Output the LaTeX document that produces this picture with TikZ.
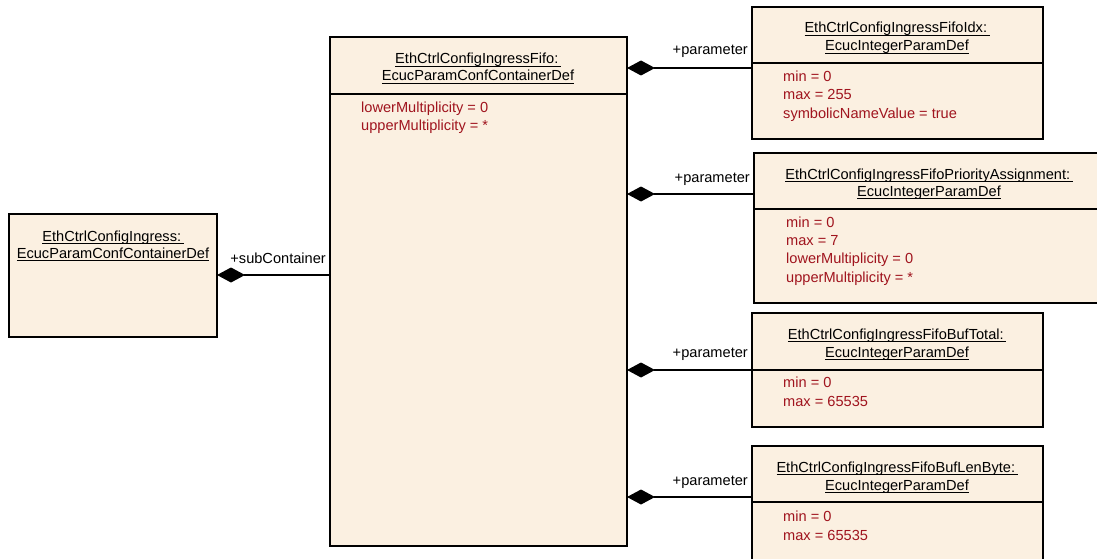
\documentclass[tikz,border=0pt]{standalone}
\usepackage{fontspec}
\setmainfont{Liberation Sans}
\usetikzlibrary{arrows.meta}
\definecolor{boxfill}{RGB}{251,240,225}
\definecolor{attrred}{RGB}{160,20,30}
\newcommand{\ulx}[1]{\setbox0\hbox{#1}\rlap{\rule[-3pt]{\wd0}{0.8pt}}\box0}
\begin{document}
\begin{tikzpicture}[x=1pt,y=-1pt, font=\fontsize{14.6}{18.5}\selectfont,
 umlbox/.style={draw=black, line width=1.1pt, fill=boxfill, rectangle, anchor=north west, inner sep=0pt, outer sep=0pt},
 ttl/.style={anchor=base, inner sep=0pt},
 att/.style={anchor=base west, inner sep=0pt, text=attrred},
 lbl/.style={anchor=base east, inner sep=0pt},
 sep/.style={line width=1.1pt},
 comp/.style={line width=1.1pt, {Diamond[length=28pt,width=15pt]}-}]
\useasboundingbox (0,0) rectangle (1097,559);
\fill[white] (0,0) rectangle (1097,559);
\clip (0,0) rectangle (1097,559);

% boxes
\node[umlbox, minimum width=208pt, minimum height=123pt] (lft) at (9,214) {};
\node[umlbox, minimum width=297pt, minimum height=509pt] (ctr) at (330,37) {};
\node[umlbox, minimum width=291pt, minimum height=132pt] (p1) at (752,7) {};
\node[umlbox, minimum width=360pt, minimum height=150pt] (p2) at (754,153) {};
\node[umlbox, minimum width=291pt, minimum height=114pt] (p3) at (752,313) {};
\node[umlbox, minimum width=291pt, minimum height=130pt] (p4) at (752,446) {};

% separators
\draw[sep] ([yshift=-57pt]ctr.north west) -- ([yshift=-57pt]ctr.north east);
\draw[sep] ([yshift=-56pt]p1.north west) -- ([yshift=-56pt]p1.north east);
\draw[sep] ([yshift=-56pt]p2.north west) -- ([yshift=-56pt]p2.north east);
\draw[sep] ([yshift=-57pt]p3.north west) -- ([yshift=-57pt]p3.north east);
\draw[sep] ([yshift=-56pt]p4.north west) -- ([yshift=-56pt]p4.north east);

% titles
\node[ttl] (lt1) at (113,241) {\ulx{EthCtrlConfigIngress:\,}};
\node[ttl] (lt2) at (113,258) {\ulx{EcucParamConfContainerDef}};
\node[ttl] (ct1) at (478,64) {\ulx{EthCtrlConfigIngressFifo:\,}};
\node[ttl] (ct2) at (478,81) {\ulx{EcucParamConfContainerDef}};
\node[ttl] (t11) at (897,33) {\ulx{EthCtrlConfigIngressFifoIdx:\,}};
\node[ttl] (t12) at (897,51) {\ulx{EcucIntegerParamDef}};
\node[ttl] (t21) at (929,179) {\ulx{EthCtrlConfigIngressFifoPriorityAssignment:\,}};
\node[ttl] (t22) at (929,196) {\ulx{EcucIntegerParamDef}};
\node[ttl] (t31) at (897,339) {\ulx{EthCtrlConfigIngressFifoBufTotal:\,}};
\node[ttl] (t32) at (897,357) {\ulx{EcucIntegerParamDef}};
\node[ttl] (t41) at (897,472) {\ulx{EthCtrlConfigIngressFifoBufLenByte:\,}};
\node[ttl] (t42) at (897,490) {\ulx{EcucIntegerParamDef}};

% attributes
\node[att] (ca1) at (361,113) {lowerMultiplicity = 0};
\node[att] (ca2) at (361,131) {upperMultiplicity = *};
\node[att] (a11) at (783,82) {min = 0};
\node[att] (a12) at (783,100) {max = 255};
\node[att] (a13) at (783,119) {symbolicNameValue = true};
\node[att] (a21) at (786,227) {min = 0};
\node[att] (a22) at (786,245) {max = 7};
\node[att] (a23) at (786,263) {lowerMultiplicity = 0};
\node[att] (a24) at (786,282) {upperMultiplicity = *};
\node[att] (a31) at (783,387) {min = 0};
\node[att] (a32) at (783,406) {max = 65535};
\node[att] (a41) at (783,521) {min = 0};
\node[att] (a42) at (783,540) {max = 65535};

% connectors
\coordinate (k0) at (0,275);
\coordinate (k1) at (0,68);
\coordinate (k2) at (0,194);
\coordinate (k3) at (0,370);
\coordinate (k4) at (0,497);
\draw[comp] (lft.east |- k0) -- (ctr.west |- k0);
\draw[comp] (ctr.east |- k1) -- (p1.west |- k1);
\draw[comp] (ctr.east |- k2) -- (p2.west |- k2);
\draw[comp] (ctr.east |- k3) -- (p3.west |- k3);
\draw[comp] (ctr.east |- k4) -- (p4.west |- k4);

% labels
\node[lbl] (l0) at (326,263) {+subContainer};
\node[lbl] (l1) at (748,55) {+parameter};
\node[lbl] (l2) at (750,182) {+parameter};
\node[lbl] (l3) at (748,357) {+parameter};
\node[lbl] (l4) at (748,485) {+parameter};
\end{tikzpicture}
\end{document}
